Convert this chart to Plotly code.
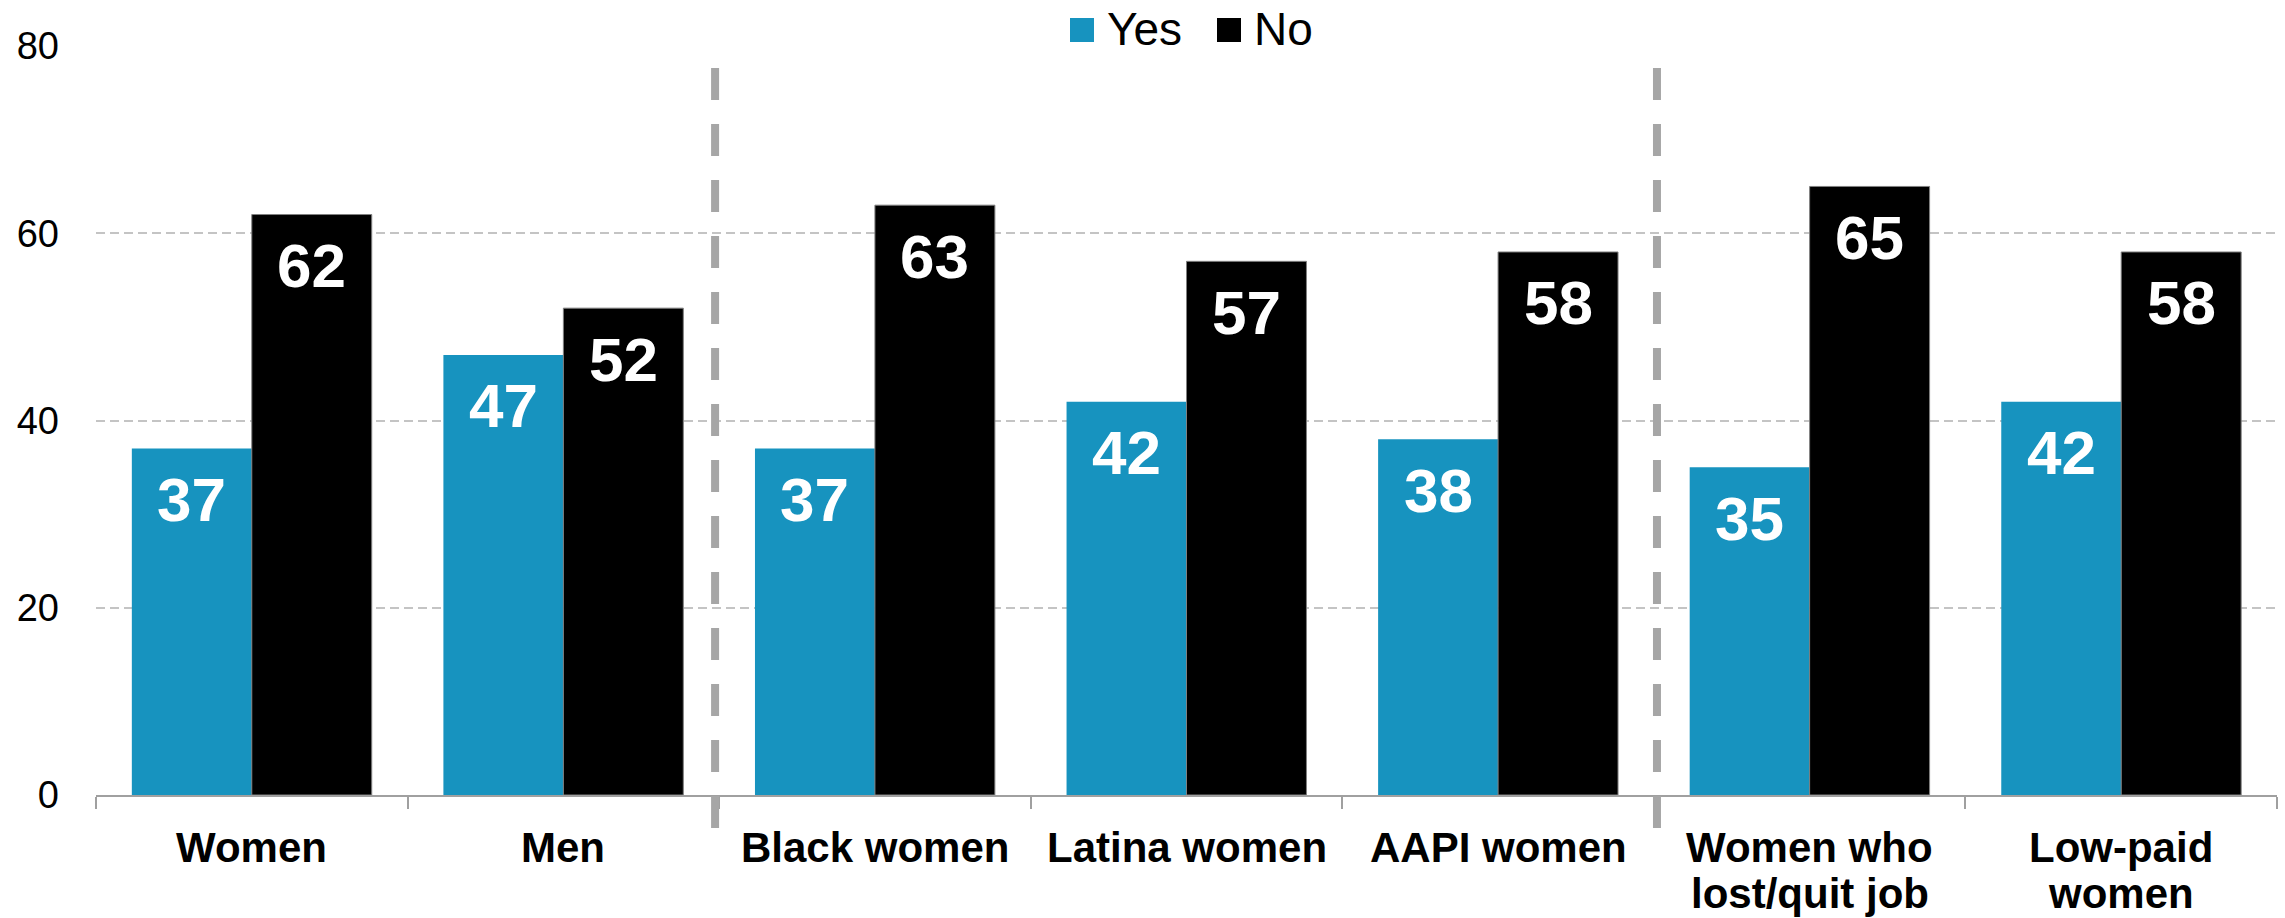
import plotly.graph_objects as go

# ---------------- data ----------------
categories = ["Women", "Men", "Black women", "Latina women", "AAPI women",
              "Women who\nlost/quit job", "Low-paid\nwomen"]
yes_values = [37, 47, 37, 42, 38, 35, 42]
no_values = [62, 52, 63, 57, 58, 65, 58]
series_names = ["Yes", "No"]
y_ticks = [0, 20, 40, 60, 80]
separators = [1.487, 4.51]  # divider positions, in category units

# ---------------- style ----------------
BLUE = "#1793BF"
BLACK = "#000000"
FONT = "Arial, 'Liberation Sans', sans-serif"
W, H = 2285, 918
ML, MR, MT, MB = 96, 8, 46, 123
PW = W - ML - MR
PH = H - MT - MB
n = len(categories)
bargap = 0.23
half = (1 - bargap) / 4


def pxx(px):
    return (px - ML) / PW


def pxy(py):
    return (H - MB - py) / PH


def cat_to_paper(c):
    return (c + 0.5) / n


x_idx = list(range(n))
fig = go.Figure()
fig.add_trace(go.Bar(x=x_idx, y=yes_values, name=series_names[0],
                     marker=dict(color=BLUE, line=dict(width=0)), showlegend=False))
fig.add_trace(go.Bar(x=x_idx, y=no_values, name=series_names[1],
                     marker=dict(color=BLACK, line=dict(width=1, color="#808080")),
                     showlegend=False))

annotations = []
# value labels
for vals, off in ((yes_values, -half), (no_values, half)):
    for i, v in enumerate(vals):
        annotations.append(dict(x=i + off, y=v, xref="x", yref="y", text=str(v),
                                showarrow=False, yanchor="middle", xanchor="center",
                                yshift=-51,
                                font=dict(family=FONT, size=62, color="white", weight="bold")))
# category labels
for i, cat in enumerate(categories):
    for j, line in enumerate(cat.split("\n")):
        annotations.append(dict(x=i, y=0, xref="x", yref="y", text=line,
                                showarrow=False, yanchor="middle", xanchor="center",
                                yshift=-(52 + 46 * j),
                                font=dict(family=FONT, size=42, color="black", weight="bold")))

shapes = []
# legend
leg_sq_x = [1070, 1217]
leg_colors = [BLUE, BLACK]
for name, sx, col in zip(series_names, leg_sq_x, leg_colors):
    shapes.append(dict(type="rect", xref="paper", yref="paper",
                       x0=pxx(sx), x1=pxx(sx + 24), y0=pxy(42), y1=pxy(18),
                       fillcolor=col, line=dict(width=0)))
    annotations.append(dict(x=pxx(sx + 35), y=pxy(29), xref="paper", yref="paper",
                            text=name, showarrow=False, xanchor="left", yanchor="middle",
                            font=dict(family=FONT, size=46, color="black")))
# dashed separators
for s in separators:
    xp = cat_to_paper(s)
    shapes.append(dict(type="line", xref="paper", yref="paper",
                       x0=xp, x1=xp, y0=pxy(68), y1=pxy(828),
                       line=dict(color="#A6A6A6", width=8, dash="32px,24px")))

fig.update_layout(
    width=W, height=H,
    margin=dict(l=ML, r=MR, t=MT, b=MB, pad=0),
    paper_bgcolor="white", plot_bgcolor="white",
    barmode="group", bargap=bargap, bargroupgap=0,
    showlegend=False,
    annotations=annotations, shapes=shapes,
    font=dict(family=FONT, color="black"),
)
fig.update_xaxes(
    type="linear", range=[-0.5, n - 0.5],
    tickmode="array", tickvals=[k - 0.5 for k in range(n + 1)],
    showticklabels=False, ticks="outside", ticklen=12, tickwidth=2, tickcolor="#A0A0A0",
    showline=True, linecolor="#A0A0A0", linewidth=2,
    showgrid=False, zeroline=False,
)
fig.update_yaxes(
    range=[0, 80], tickmode="array", tickvals=y_ticks,
    tickfont=dict(family=FONT, size=38, color="black"),
    ticks="", ticklabelstandoff=36,
    showgrid=True, gridcolor="#C4C4C4", gridwidth=2, griddash="9px,5px",
    zeroline=False, showline=False,
)

fig.write_html("out.html")
